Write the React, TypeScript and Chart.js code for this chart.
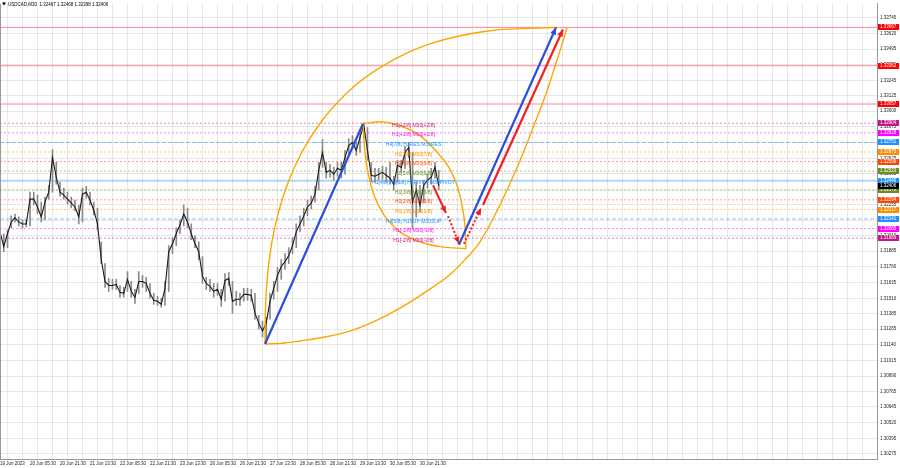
import React, { useEffect, useRef } from "react";
import { Chart, registerables } from "chart.js";
Chart.register(...registerables);

const headerText = "USDCAD,M30  1.32467 1.32468 1.32398 1.32406";
const barStep = 4;
const closes = [
  1.32039, 1.31921, 1.32024, 1.32118, 1.3215, 1.32118, 1.32102, 1.32102, 1.323, 1.323,
  1.32237, 1.32158, 1.32276, 1.32355, 1.32632, 1.32474, 1.32355, 1.32331, 1.323, 1.32268,
  1.32237, 1.32158, 1.32339, 1.32355, 1.32292, 1.32213, 1.32102, 1.31818, 1.31644, 1.31612,
  1.31612, 1.3162, 1.31557, 1.31549, 1.3166, 1.31565, 1.31518, 1.31644, 1.31644, 1.31628,
  1.31549, 1.31494, 1.31486, 1.31462, 1.31589, 1.31881, 1.31944, 1.32024, 1.32095, 1.32181,
  1.32118, 1.32024, 1.31944, 1.31881, 1.31684, 1.31628, 1.31605, 1.31565, 1.31581, 1.31502,
  1.31652, 1.31668, 1.31486, 1.31502, 1.31502, 1.31541, 1.31541, 1.31533, 1.31391, 1.31312,
  1.31249, 1.31312, 1.31486, 1.31589, 1.31692, 1.31763, 1.31802, 1.3185, 1.31929, 1.32039,
  1.32102, 1.32166, 1.32237, 1.32268, 1.32339, 1.32529, 1.32671, 1.32513, 1.32529, 1.32498,
  1.32545, 1.32529, 1.32632, 1.32726, 1.3275, 1.32687, 1.3279, 1.32892, 1.32687, 1.3249,
  1.32482, 1.32498, 1.32513, 1.3249, 1.32466, 1.32418, 1.32569, 1.32553, 1.32671, 1.32711,
  1.32276, 1.32371, 1.32253, 1.3241, 1.3245, 1.32474, 1.32553, 1.32406,
];
const highs = [
  1.32079, 1.32024, 1.32055, 1.32166, 1.32181, 1.32158, 1.32134, 1.32134, 1.32355, 1.32355,
  1.32331, 1.32276, 1.32316, 1.3241, 1.32695, 1.32592, 1.32434, 1.32387, 1.32355, 1.32316,
  1.32292, 1.32253, 1.32387, 1.32402, 1.32355, 1.32276, 1.32229, 1.3196, 1.31786, 1.31668,
  1.3166, 1.3166, 1.31612, 1.31597, 1.31723, 1.31644, 1.31581, 1.31723, 1.31692, 1.31676,
  1.31628, 1.31549, 1.31526, 1.3151, 1.31644, 1.31929, 1.31992, 1.32071, 1.32134, 1.32253,
  1.32229, 1.32102, 1.32008, 1.3196, 1.31842, 1.31676, 1.3166, 1.31628, 1.31628, 1.31581,
  1.31707, 1.31715, 1.31644, 1.31565, 1.31549, 1.31589, 1.31589, 1.31581, 1.31549, 1.31375,
  1.31328, 1.3136, 1.31549, 1.31644, 1.31755, 1.31818, 1.31865, 1.31913, 1.31992, 1.32102,
  1.32166, 1.32229, 1.32292, 1.32324, 1.32402, 1.32592, 1.32774, 1.32592, 1.32576, 1.32553,
  1.32592, 1.32592, 1.32687, 1.32782, 1.32805, 1.3275, 1.32853, 1.32908, 1.32869, 1.32592,
  1.32545, 1.32545, 1.32561, 1.32553, 1.32592, 1.32482, 1.32608, 1.32608, 1.32718, 1.3275,
  1.32671, 1.32434, 1.3241, 1.3245, 1.32498, 1.32545, 1.32592, 1.32529,
];
const lows = [
  1.31992, 1.31881, 1.31913, 1.32071, 1.32118, 1.32087, 1.32071, 1.32079, 1.32087, 1.32253,
  1.32181, 1.32118, 1.32134, 1.323, 1.32355, 1.32418, 1.32324, 1.323, 1.3226, 1.32229,
  1.32205, 1.32102, 1.32118, 1.32308, 1.32253, 1.32174, 1.32055, 1.31786, 1.31597, 1.31565,
  1.31581, 1.31581, 1.31518, 1.31518, 1.31565, 1.31518, 1.3147, 1.31549, 1.31597, 1.31565,
  1.3151, 1.31462, 1.31454, 1.31439, 1.31454, 1.31565, 1.31865, 1.31929, 1.32024, 1.32087,
  1.32071, 1.31976, 1.31913, 1.31818, 1.31628, 1.31581, 1.31565, 1.31518, 1.31533, 1.31446,
  1.31486, 1.31612, 1.31391, 1.31454, 1.31454, 1.31486, 1.31494, 1.31486, 1.31344, 1.31265,
  1.31202, 1.31146, 1.31344, 1.31502, 1.31565, 1.3166, 1.31739, 1.31786, 1.31865, 1.31913,
  1.32039, 1.32087, 1.32166, 1.32221, 1.32276, 1.32371, 1.32553, 1.32466, 1.32474, 1.3245,
  1.32482, 1.32466, 1.32498, 1.32655, 1.32695, 1.32647, 1.32671, 1.3279, 1.32608, 1.32434,
  1.32434, 1.3245, 1.32458, 1.32434, 1.32418, 1.32371, 1.32434, 1.32513, 1.32545, 1.32632,
  1.32063, 1.32158, 1.32197, 1.32276, 1.32387, 1.32418, 1.32466, 1.32371,
];
const lastPrice = 1.32406;

const timeLabels = [
  "19 Jun 2023", "20 Jun 05:30", "20 Jun 21:30", "21 Jun 13:30", "22 Jun 05:30",
  "22 Jun 21:30", "23 Jun 13:30", "26 Jun 05:30", "26 Jun 21:30", "27 Jun 13:30",
  "28 Jun 05:30", "28 Jun 21:30", "29 Jun 13:30", "30 Jun 05:30", "30 Jun 21:30",
];
const barsPerLabel = 32;
const priceTicks = [
  1.33745, 1.3362, 1.33495, 1.3337, 1.33245, 1.33125, 1.33, 1.32875, 1.3275, 1.32625,
  1.32505, 1.3238, 1.32255, 1.3213, 1.3201, 1.31885, 1.3176, 1.31635, 1.3151, 1.31385,
  1.31265, 1.3114, 1.31015, 1.3089, 1.30765, 1.30645, 1.3052, 1.30395, 1.30275,
];

const h4Levels = [1.33667, 1.33362, 1.33057];
const mmLevels = [1.32904, 1.32828, 1.32751, 1.32675, 1.32599, 1.32523, 1.32446, 1.3237, 1.32294, 1.32217, 1.32141, 1.32065, 1.31989];
const mmNames = [
  "H1[+2/8] M30[+2/8]", "H1[+1/8] M30[+1/8]", "H4[7/8] H1RES M30RES", "H1[7/8] M30[7/8]",
  "H1[6/8] M30[6/8]", "H1[5/8] M30[5/8]", "H1[4/8] H4[6/8] H1PIVOT M30PIVOT", "H1[3/8] M30[3/8]",
  "H1[2/8] M30[2/8]", "H1[1/8] M30[1/8]", "H4[5/8] H1SUP M30SUP", "H1[-1/8] M30[-1/8]", "H1[-2/8] M30[-2/8]",
];
const mmColors = [
  "#c71585", "#ff00ff", "#1e90ff", "#ff8c00", "#ff4500", "#6b8e23", "#1e90ff",
  "#6b8e23", "#ff4500", "#ff8c00", "#1e90ff", "#ff00ff", "#c71585",
];
const mmStyles = ["dot", "dot", "dash", "dot", "dot", "dot", "solid", "dot", "dot", "dot", "dash", "dot", "dot"];
const labelBar = 441;

// annotation shapes: [bar, price]
const bigArcUpper = [
  [282.7, 1.31146], [282.9, 1.31328], [283.5, 1.31486], [285.8, 1.31723], [290.1, 1.3196],
  [297.2, 1.32197], [307.4, 1.32434], [321.8, 1.32671], [341.8, 1.32908], [369.9, 1.33145],
  [396.2, 1.33303], [433.3, 1.33461], [460.3, 1.3354], [492.1, 1.33603], [524.9, 1.33643],
  [560.0, 1.33659], [594.1, 1.33666],
];
const bigArcLower = [
  [282.7, 1.31146], [304.0, 1.31154], [320.0, 1.3117], [346.7, 1.31202], [373.3, 1.31249],
  [400.0, 1.31328], [426.7, 1.31431], [453.3, 1.31557], [480.0, 1.31699], [496.0, 1.31818],
  [512.0, 1.3196], [533.3, 1.32253], [554.7, 1.32608], [570.7, 1.32908], [583.5, 1.33161],
  [594.1, 1.33406], [600.5, 1.33556], [604.8, 1.33666],
];
const smallArcUpper = [
  [387.2, 1.329], [405.3, 1.32916], [426.7, 1.32884], [448.0, 1.32805], [469.3, 1.32647],
  [480.0, 1.32537], [487.5, 1.3241], [492.8, 1.32252], [496.0, 1.32079], [497.1, 1.31905],
];
const smallArcLower = [
  [387.2, 1.329], [389.3, 1.32671], [392.5, 1.32513], [398.9, 1.32331], [409.6, 1.32174],
  [426.7, 1.32039], [448.0, 1.3196], [469.3, 1.31921], [497.1, 1.31905],
];
const blueLine1 = [[282.7, 1.31146], [387.2, 1.329]];
const blueLine2 = [[489.6, 1.31936], [593.1, 1.33666]];
const redLine = [[515.2, 1.32253], [600.5, 1.33651]];
const redShort = [[461.9, 1.3241], [475.7, 1.32189]];
const redDotDown = [[477.9, 1.32165], [489.6, 1.31944]];
const redDotUp = [[494.9, 1.31944], [513.1, 1.32229]];

const FONT = "'Liberation Sans', Arial, sans-serif";
const hexA = (hex: string, a: number) => {
  const n = parseInt(hex.slice(1), 16);
  return `rgba(${(n >> 16) & 255},${(n >> 8) & 255},${n & 255},${a})`;
};

export default function App() {
  const ref = useRef<HTMLCanvasElement>(null);
  useEffect(() => {
    document.body.style.margin = "0";
    const canvas = ref.current!;
    const xMin = 0;
    const xMax = 935.5;
    const yMin = 1.3023;
    const yMax = 1.33856;

    const pts = (arr: number[][]) => arr.map(([x, y]) => ({ x, y }));
    const datasets: any[] = [];

    const curve = (arr: number[][]) => ({
      type: "line", data: pts(arr), borderColor: "#ffa500", borderWidth: 1.4,
      pointRadius: 0, cubicInterpolationMode: "monotone", fill: false, order: 1,
    });
    datasets.push(curve(bigArcUpper), curve(bigArcLower), curve(smallArcUpper), curve(smallArcLower));
    const seg = (arr: number[][], color: string, width: number, dash: number[], arrow: boolean) => ({
      type: "line", data: pts(arr), borderColor: color, borderWidth: width, borderDash: dash,
      pointRadius: 0, tension: 0, fill: false, order: 0, arrow,
    });
    datasets.push(
      seg(blueLine1, "#2b4de0", 2.2, [], false),
      seg(blueLine2, "#2b4de0", 2.2, [], true),
      seg(redLine, "#f02020", 2.2, [], true),
      seg(redShort, "#f02020", 2, [], true),
      seg(redDotDown, "#f02020", 2, [2, 2], true),
      seg(redDotUp, "#f02020", 2, [2, 2], true),
    );

    datasets.push({
      type: "bar",
      data: highs.map((h, i) => ({ x: i * barStep, y: [lows[i], h] })),
      backgroundColor: "#8a8a8a", barThickness: 1, grouped: false, order: 6,
    });
    datasets.push({
      type: "line",
      data: closes.map((c, i) => ({ x: i * barStep, y: c })),
      borderColor: "#1c1c1c", borderWidth: 1.1, pointRadius: 0, tension: 0, order: 5,
    });

    h4Levels.forEach((v) => {
      datasets.push({
        type: "line", data: [{ x: xMin, y: v }, { x: xMax, y: v }],
        borderColor: "rgba(255,40,60,0.55)", borderWidth: 1, pointRadius: 0, order: 10,
      });
    });
    mmLevels.forEach((v, i) => {
      const st = mmStyles[i];
      datasets.push({
        type: "line", data: [{ x: xMin, y: v }, { x: xMax, y: v }],
        borderColor: hexA(mmColors[i], st === "solid" ? 0.35 : 0.5),
        borderWidth: st === "solid" ? 2 : 1,
        borderDash: st === "dot" ? [2, 2] : st === "dash" ? [4, 2] : [],
        pointRadius: 0, order: 10,
      });
    });

    const rightBoxes: [number, string][] = [
      ...h4Levels.map((v) => [v, "#ff0000"] as [number, string]),
      ...mmLevels.map((v, i) => [v, mmColors[i]] as [number, string]),
      [lastPrice, "#000000"],
    ];

    const overlay = {
      id: "overlay",
      afterDatasetsDraw(chart: any) {
        const ctx = chart.ctx;
        const xs = chart.scales.x;
        const ys = chart.scales.y;
        chart.data.datasets.forEach((ds: any, i: number) => {
          if (!ds.arrow) return;
          const d = chart.getDatasetMeta(i).data;
          const a = d[d.length - 2];
          const b = d[d.length - 1];
          const ang = Math.atan2(b.y - a.y, b.x - a.x);
          const L = 7, W = 3;
          const c = Math.cos(ang), s = Math.sin(ang);
          ctx.save();
          ctx.fillStyle = ds.borderColor;
          ctx.beginPath();
          ctx.moveTo(b.x, b.y);
          ctx.lineTo(b.x - L * c + W * s, b.y - L * s - W * c);
          ctx.lineTo(b.x - L * c - W * s, b.y - L * s + W * c);
          ctx.closePath();
          ctx.fill();
          ctx.restore();
        });
        ctx.save();
        ctx.font = `5px ${FONT}`;
        ctx.textAlign = "center";
        ctx.textBaseline = "middle";
        const lx = xs.getPixelForValue(labelBar);
        mmLevels.forEach((v, i) => {
          ctx.fillStyle = mmColors[i];
          ctx.fillText(mmNames[i], lx, ys.getPixelForValue(v) + 2.2);
        });
        ctx.restore();
      },
      afterDraw(chart: any) {
        const ctx = chart.ctx;
        const ys = chart.scales.y;
        const area = chart.chartArea;
        ctx.save();
        ctx.strokeStyle = "#9a9a9a";
        ctx.lineWidth = 1;
        ctx.beginPath();
        ctx.moveTo(0.5, area.top);
        ctx.lineTo(0.5, area.bottom);
        ctx.stroke();
        ctx.font = `4.5px ${FONT}`;
        ctx.textBaseline = "middle";
        ctx.textAlign = "left";
        rightBoxes.forEach(([v, col]) => {
          const y = ys.getPixelForValue(v);
          ctx.fillStyle = col;
          ctx.fillRect(area.right + 1, Math.round(y) - 3, 21, 6);
          ctx.fillStyle = "#ffffff";
          ctx.fillText(v.toFixed(5), area.right + 3, Math.round(y));
        });
        ctx.fillStyle = "#000";
        ctx.beginPath();
        ctx.moveTo(2, 2.5);
        ctx.lineTo(6, 2.5);
        ctx.lineTo(4, 5.5);
        ctx.closePath();
        ctx.fill();
        ctx.font = `4.5px ${FONT}`;
        ctx.fillText(headerText, 8, 4.5);
        ctx.restore();
      },
    };

    const gridBars: number[] = [];
    for (let b = 0; b <= xMax; b += barsPerLabel / 2) gridBars.push(b);

    const chart = new Chart(canvas, {
      type: "line",
      data: { datasets },
      plugins: [overlay],
      options: {
        responsive: false,
        animation: false,
        events: [],
        layout: { padding: 0 },
        plugins: { legend: { display: false }, tooltip: { enabled: false } },
        scales: {
          x: {
            type: "linear", min: xMin, max: xMax, offset: false,
            afterBuildTicks: (s: any) => { s.ticks = gridBars.map((v) => ({ value: v })); },
            afterFit: (s: any) => { s.height = 9; },
            ticks: {
              autoSkip: false, maxRotation: 0, align: "start", padding: 0,
              font: { size: 4.5, family: FONT }, color: "#222",
              callback: (v: any) => {
                const k = v / barsPerLabel;
                return Number.isInteger(k) && k < timeLabels.length ? timeLabels[k] : "";
              },
            },
            grid: { color: "rgba(0,0,0,0.09)", tickLength: 2, drawTicks: true },
            border: { color: "#9a9a9a" },
          },
          y: {
            type: "linear", position: "right", min: yMin, max: yMax,
            afterBuildTicks: (s: any) => { s.ticks = priceTicks.map((v) => ({ value: v })); },
            afterFit: (s: any) => { s.width = 23; },
            ticks: {
              autoSkip: false, padding: 1, font: { size: 4.5, family: FONT }, color: "#222",
              callback: (v: any) => Number(v).toFixed(5),
            },
            grid: { color: "rgba(0,0,0,0.09)", tickLength: 2 },
            border: { color: "#9a9a9a" },
          },
        },
      } as any,
    });
    return () => chart.destroy();
  }, []);
  return (
    <div style={{ position: "fixed", left: 0, top: 0, width: 900, height: 468, background: "#fff" }}>
      <canvas ref={ref} width={900} height={468} style={{ display: "block", width: 900, height: 468 }} />
    </div>
  );
}
